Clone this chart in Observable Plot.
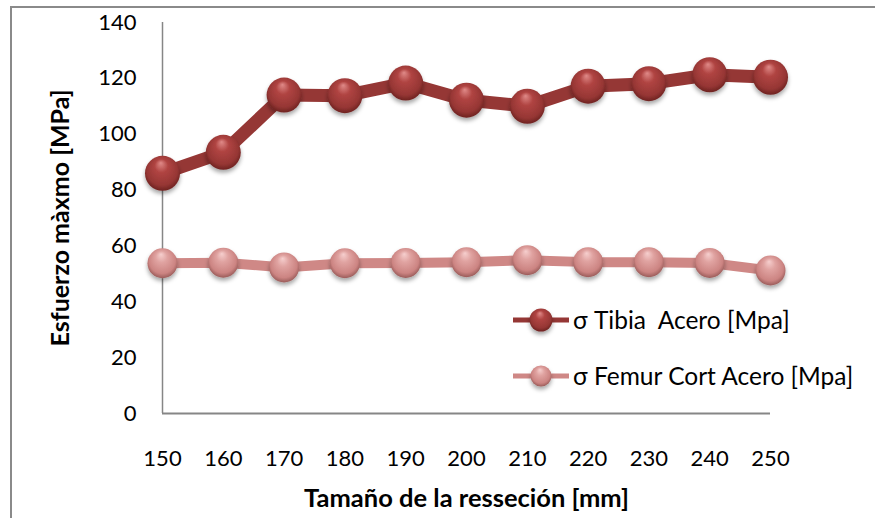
<!DOCTYPE html>
<html>
<head>
<meta charset="utf-8">
<script src="https://cdn.jsdelivr.net/npm/d3@7"></script>
<script src="https://cdn.jsdelivr.net/npm/@observablehq/plot@0.6"></script>
<style>
  html, body { margin: 0; padding: 0; background: #fff; overflow: hidden; }
  #wrap { position: relative; width: 875px; height: 518px; overflow: hidden; font-family: Lato, "Open Sans", sans-serif; }
  #frame { position: absolute; left: 10px; top: 6px; width: 1000px; height: 700px; border: 2px solid #8a8a8a; box-sizing: border-box; }
  #chart { position: absolute; left: 0; top: 0; }
  .leg { position: absolute; left: 513px; display: flex; align-items: center; font-size: 24.5px; color: #000; white-space: pre; }
  .leg svg { display: block; margin-right: 4px; overflow: visible; }
</style>
</head>
<body>
<div id="wrap">
  <div id="frame"></div>
  <div id="chart"></div>
  <div class="leg" id="leg1" style="top:305px"></div>
  <div class="leg" id="leg2" style="top:361px"></div>
</div>
<script>
const sizes = [150, 160, 170, 180, 190, 200, 210, 220, 230, 240, 250];
const tibia = [86, 93.5, 114, 113.8, 118.3, 112.2, 110, 117.2, 118.1, 121.3, 120.4];
const femur = [53.8, 54, 52.3, 53.8, 53.9, 54.2, 54.9, 54.2, 54.2, 53.9, 51.2];
const seriesNames = ["σ Tibia  Acero [Mpa]", "σ Femur Cort Acero [Mpa]"];
const yTicks = [0, 20, 40, 60, 80, 100, 120, 140];
const xTitle = "Tamaño de la resseción [mm]";
const yTitle = "Esfuerzo màxmo [MPa]";

const tib = sizes.map((s, i) => ({x: s, y: tibia[i]}));
const fem = sizes.map((s, i) => ({x: s, y: femur[i]}));

const axisColor = "#868686";
const tibLine = "#953735";
const femLine = "#cf8886";

const plot = Plot.plot({
  width: 875,
  height: 518,
  marginLeft: 162,
  marginRight: 105,
  marginTop: 22,
  marginBottom: 105,
  style: {fontFamily: "Lato, 'Open Sans', sans-serif", fontSize: "22px", color: "#000", background: "transparent", overflow: "visible"},
  x: {domain: [150, 250], ticks: sizes, tickSize: 0, tickPadding: 37, label: null, tickFormat: d => String(d)},
  y: {domain: [0, 140], ticks: yTicks, tickSize: 0, tickPadding: 26, label: null, tickFormat: d => String(d)},
  marks: [
    Plot.ruleY([0], {stroke: axisColor, strokeWidth: 2}),
    Plot.ruleX([150], {y1: 0, y2: 140, stroke: axisColor, strokeWidth: 1.5}),
    Plot.line(fem, {x: "x", y: "y", stroke: femLine, strokeWidth: 10, strokeLinejoin: "round"}),
    Plot.dot(fem, {x: "x", y: "y", r: 15, fill: "url(#gFem)", stroke: "none", className: "sphere"}),
    Plot.line(tib, {x: "x", y: "y", stroke: tibLine, strokeWidth: 13, strokeLinejoin: "round"}),
    Plot.dot(tib, {x: "x", y: "y", r: 17.5, fill: "url(#gTib)", stroke: "none", className: "sphere"}),
    Plot.text([xTitle], {frameAnchor: "bottom", dy: 93, fontWeight: "bold", fontSize: 25.5, fill: "#000"}),
    Plot.text([yTitle], {frameAnchor: "left", dx: -102, rotate: -90, textAnchor: "middle", fontWeight: "bold", fontSize: 25, fill: "#000"})
  ]
});

const defsHTML = `
  <radialGradient id="gTib" cx="0.5" cy="0.45" r="0.55" fx="0.45" fy="0.2">
    <stop offset="0" stop-color="#e08a88"/>
    <stop offset="0.35" stop-color="#b04442"/>
    <stop offset="0.8" stop-color="#963634"/>
    <stop offset="1" stop-color="#6e2321"/>
  </radialGradient>
  <radialGradient id="gFem" cx="0.5" cy="0.45" r="0.55" fx="0.45" fy="0.2">
    <stop offset="0" stop-color="#f6cfce"/>
    <stop offset="0.35" stop-color="#e0a3a1"/>
    <stop offset="0.8" stop-color="#cc8482"/>
    <stop offset="1" stop-color="#9a5c5a"/>
  </radialGradient>
  <filter id="shadow" x="-50%" y="-50%" width="200%" height="200%">
    <feDropShadow dx="0" dy="3" stdDeviation="2" flood-color="#000" flood-opacity="0.35"/>
  </filter>`;
const defs = d3.select(plot).insert("defs", ":first-child");
defs.html(defsHTML);
d3.select(plot).selectAll("g.sphere circle, .sphere circle").attr("filter", "url(#shadow)");

document.getElementById("chart").appendChild(plot);

function legendItem(el, name, line, grad, r, sw) {
  el.innerHTML = `<svg width="56" height="28" viewBox="0 0 56 28">
    <line x1="0" y1="14" x2="56" y2="14" stroke="${line}" stroke-width="${sw}"/>
    <circle cx="28" cy="14" r="${r}" fill="url(#${grad})" filter="url(#shadow)"/>
  </svg><span></span>`;
  el.querySelector("span").textContent = name;
}
legendItem(document.getElementById("leg1"), seriesNames[0], tibLine, "gTib", 11.5, 5);
legendItem(document.getElementById("leg2"), seriesNames[1], femLine, "gFem", 10.5, 5);
</script>
</body>
</html>
